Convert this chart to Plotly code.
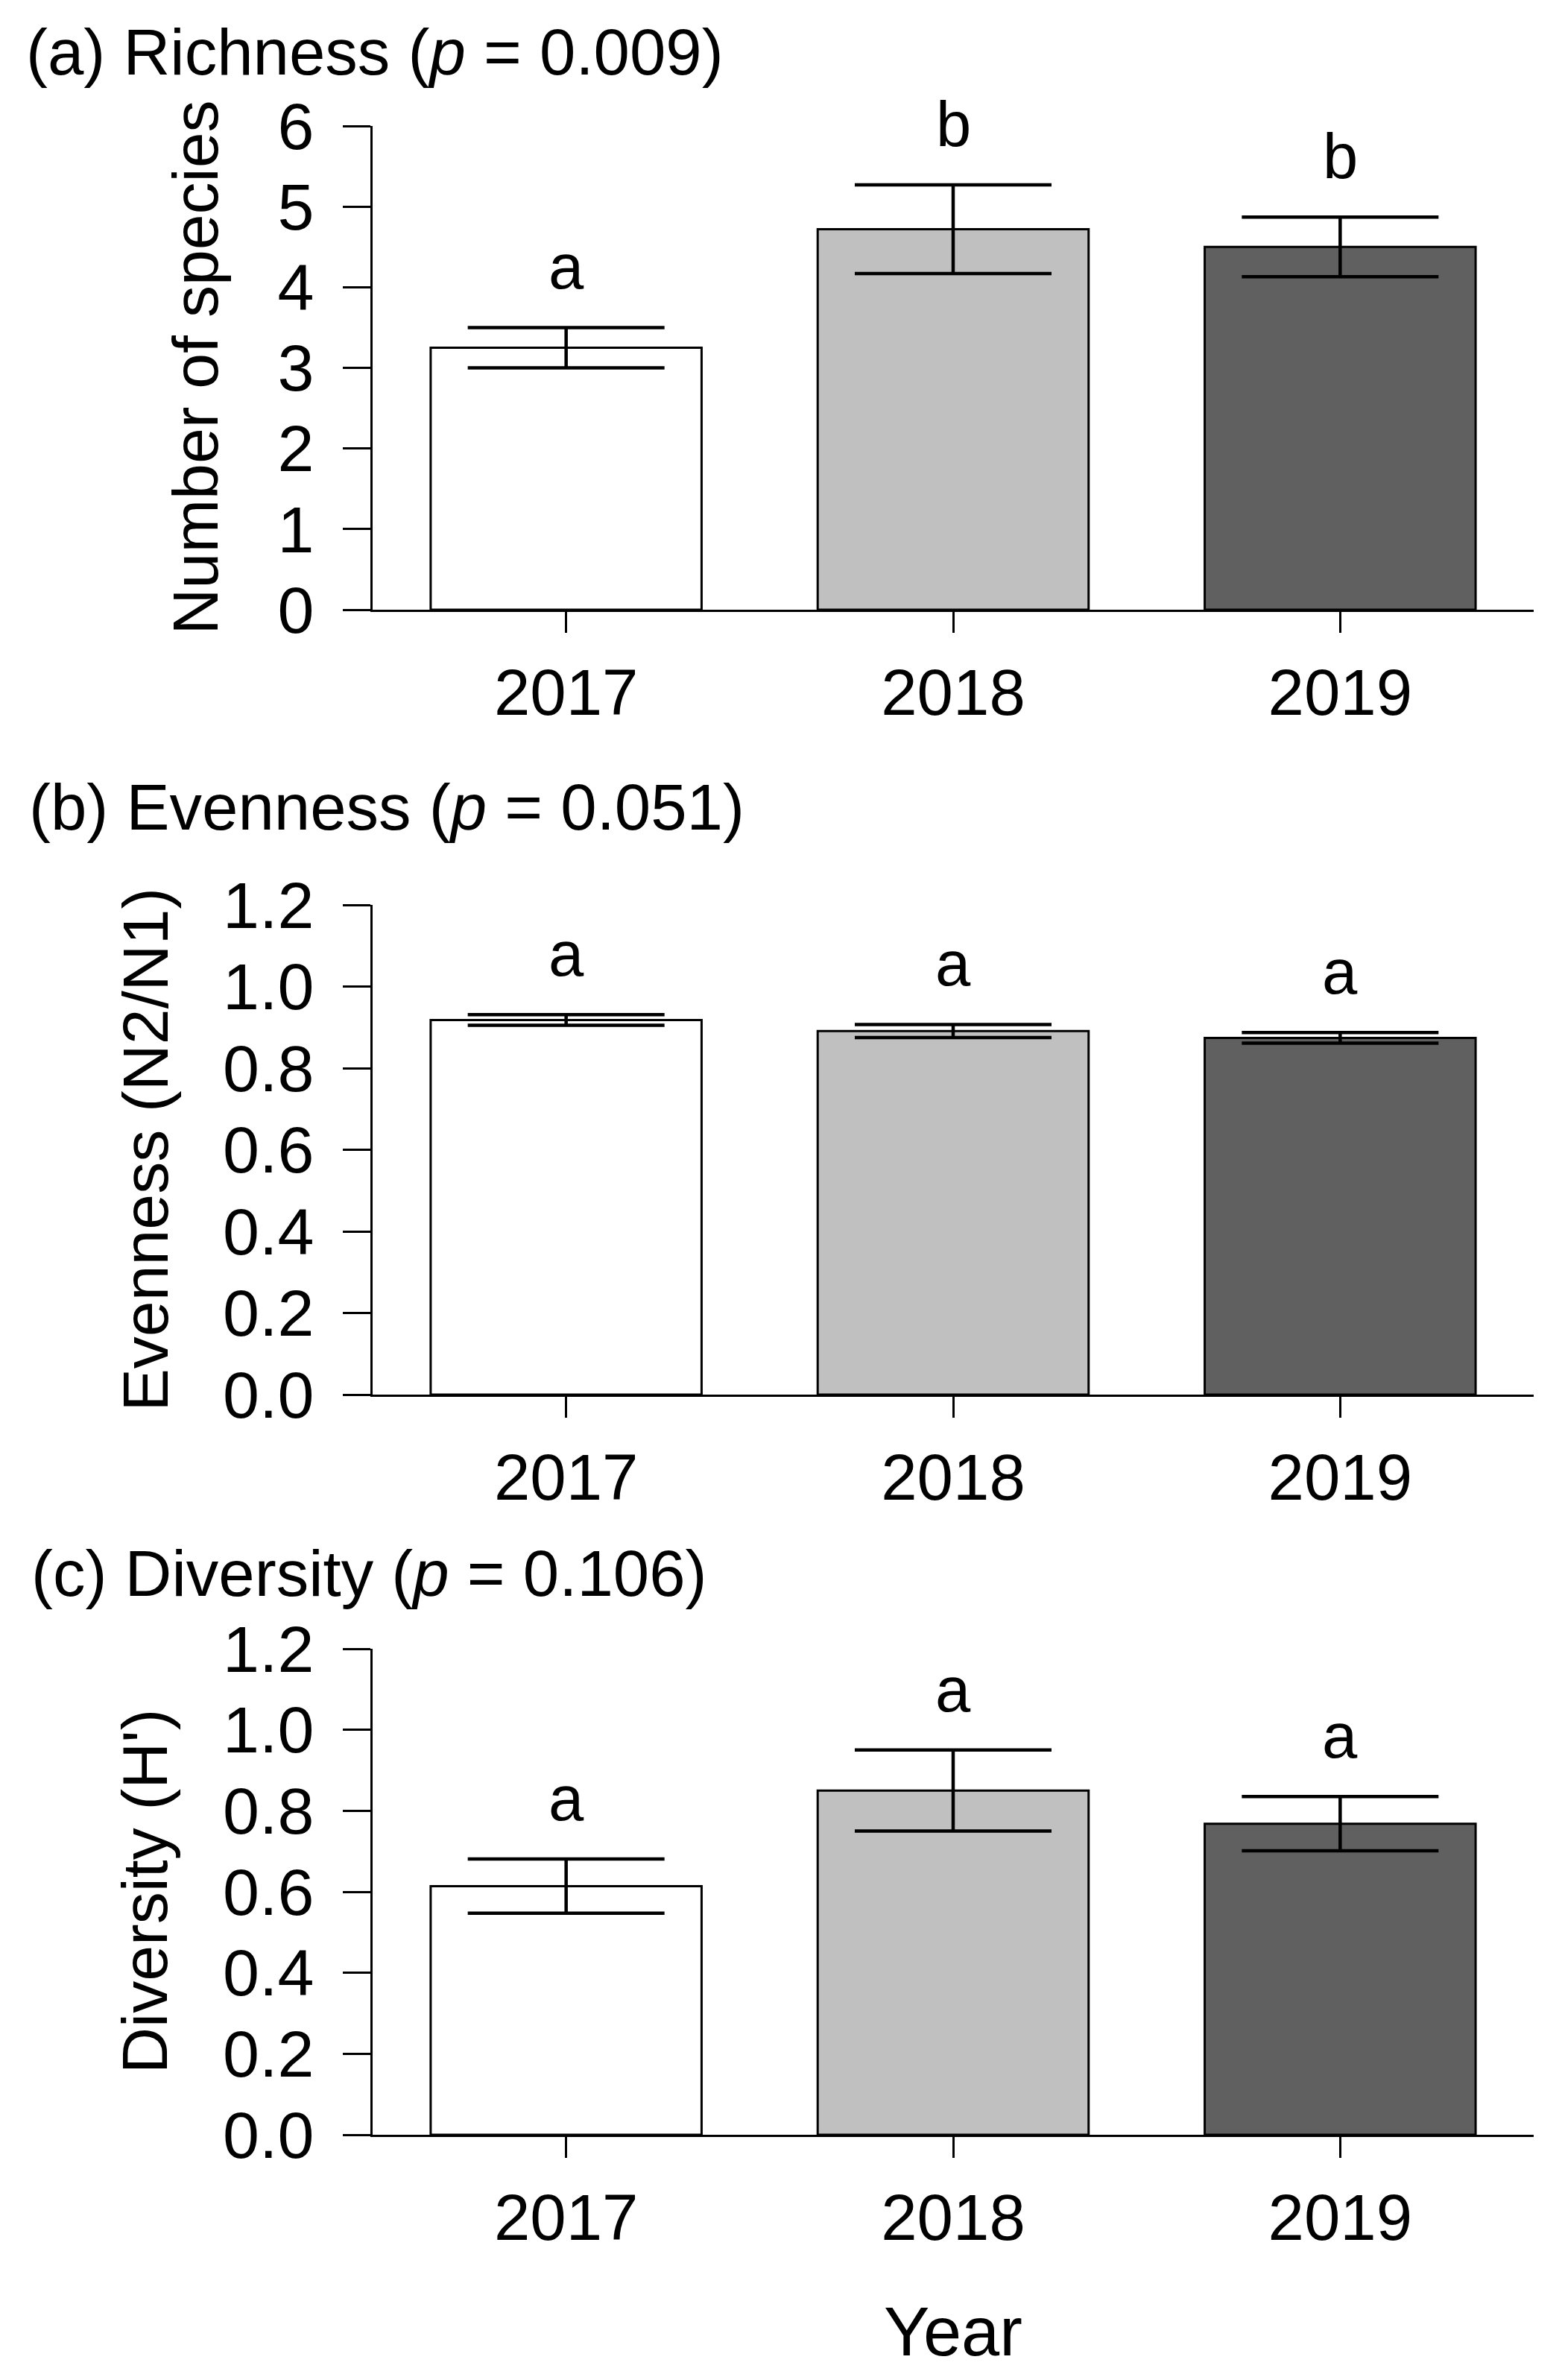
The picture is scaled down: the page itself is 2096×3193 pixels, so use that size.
import plotly.graph_objects as go
from plotly.subplots import make_subplots

years = ['2017', '2018', '2019']
bar_colors = ['#ffffff', '#c0c0c0', '#606060']

richness_mean = [3.25, 4.72, 4.50]
richness_se = [0.25, 0.55, 0.37]
richness_letters = ['a', 'b', 'b']

evenness_mean = [0.918, 0.891, 0.874]
evenness_se = [0.013, 0.016, 0.013]
evenness_letters = ['a', 'a', 'a']

diversity_mean = [0.614, 0.850, 0.768]
diversity_se = [0.067, 0.100, 0.067]
diversity_letters = ['a', 'a', 'a']

panel_titles = ['(a) Richness (<i>p</i> = 0.009)',
                '(b) Evenness (<i>p</i> = 0.051)',
                '(c) Diversity (<i>p</i> = 0.106)']
y_titles = ['Number of species', 'Evenness (N2/N1)', "Diversity (H')"]
y_ranges = [[0, 6], [0, 1.2], [0, 1.2]]
y_dticks = [1, 0.2, 0.2]
y_formats = ['d', '.1f', '.1f']

W, H = 2096, 3193
FONT = 'Liberation Sans'
OFF = 8  # page body margin

# pixel layout of the three panels (top, bottom)
panel_px = [(169, 818), (1214, 1871), (2212, 2864)]
x_left, x_right = 500, 2058
title_px = [(33, 70), (37, 1082), (40, 2110)]
ytitle_x = [261, 194, 194]


def px_x(v):
    return (v - OFF) / W


def px_y(v):
    return 1 - (v - OFF) / H


fig = make_subplots(rows=3, cols=1)

means = [richness_mean, evenness_mean, diversity_mean]
ses = [richness_se, evenness_se, diversity_se]
letters = [richness_letters, evenness_letters, diversity_letters]

for i in range(3):
    r = i + 1
    fig.add_trace(go.Bar(
        x=years,
        y=means[i],
        width=0.7,
        marker=dict(color=bar_colors, line=dict(color='black', width=3)),
        error_y=dict(type='data', array=ses[i], color='black', thickness=4.5, width=132),
        showlegend=False
    ), row=r, col=1)

    top, bot = panel_px[i]
    fig.update_xaxes(
        type='category',
        domain=[px_x(x_left), px_x(x_right)],
        range=[-0.5, 2.5],
        showline=True, linecolor='black', linewidth=3,
        ticks='outside', ticklen=28, tickwidth=3, tickcolor='black',
        tickfont=dict(family=FONT, size=87, color='black'),
        ticklabelstandoff=6, automargin=False,
        showgrid=False, zeroline=False,
        row=r, col=1
    )
    fig.update_yaxes(
        domain=[px_y(bot), px_y(top)],
        range=y_ranges[i], dtick=y_dticks[i], tick0=0, tickformat=y_formats[i],
        showline=True, linecolor='black', linewidth=3,
        ticks='outside', ticklen=37, tickwidth=3, tickcolor='black',
        tickfont=dict(family=FONT, size=88, color='black'),
        ticklabelstandoff=21, automargin=False,
        showgrid=False, zeroline=False,
        row=r, col=1
    )

    # significance letters above the error bars
    xref = 'x' if r == 1 else f'x{r}'
    yref = 'y' if r == 1 else f'y{r}'
    for j in range(len(years)):
        fig.add_annotation(
            x=j, y=means[i][j] + ses[i][j], xref=xref, yref=yref,
            text=letters[i][j], showarrow=False,
            yanchor='bottom', yshift=32,
            font=dict(family=FONT, size=85, color='black')
        )

    # panel title
    tx, ty = title_px[i]
    fig.add_annotation(
        x=px_x(tx), y=px_y(ty), xref='paper', yref='paper',
        text=panel_titles[i], showarrow=False,
        xanchor='left', yanchor='middle',
        font=dict(family=FONT, size=87, color='black')
    )

    # y-axis title
    fig.add_annotation(
        x=px_x(ytitle_x[i]), y=px_y((top + bot) / 2), xref='paper', yref='paper',
        text=y_titles[i], showarrow=False, textangle=-90,
        xanchor='center', yanchor='middle',
        font=dict(family=FONT, size=86, color='black')
    )

fig.add_annotation(
    x=px_x((x_left + x_right) / 2), y=px_y(3128), xref='paper', yref='paper',
    text='Year', showarrow=False, xanchor='center', yanchor='middle',
    font=dict(family=FONT, size=92, color='black')
)

fig.update_layout(
    width=W, height=H,
    margin=dict(l=0, r=0, t=0, b=0, pad=0, autoexpand=False),
    paper_bgcolor='white', plot_bgcolor='white',
    bargap=0.3,
    showlegend=False,
    font=dict(family=FONT, color='black')
)

fig.write_html('out.html')
